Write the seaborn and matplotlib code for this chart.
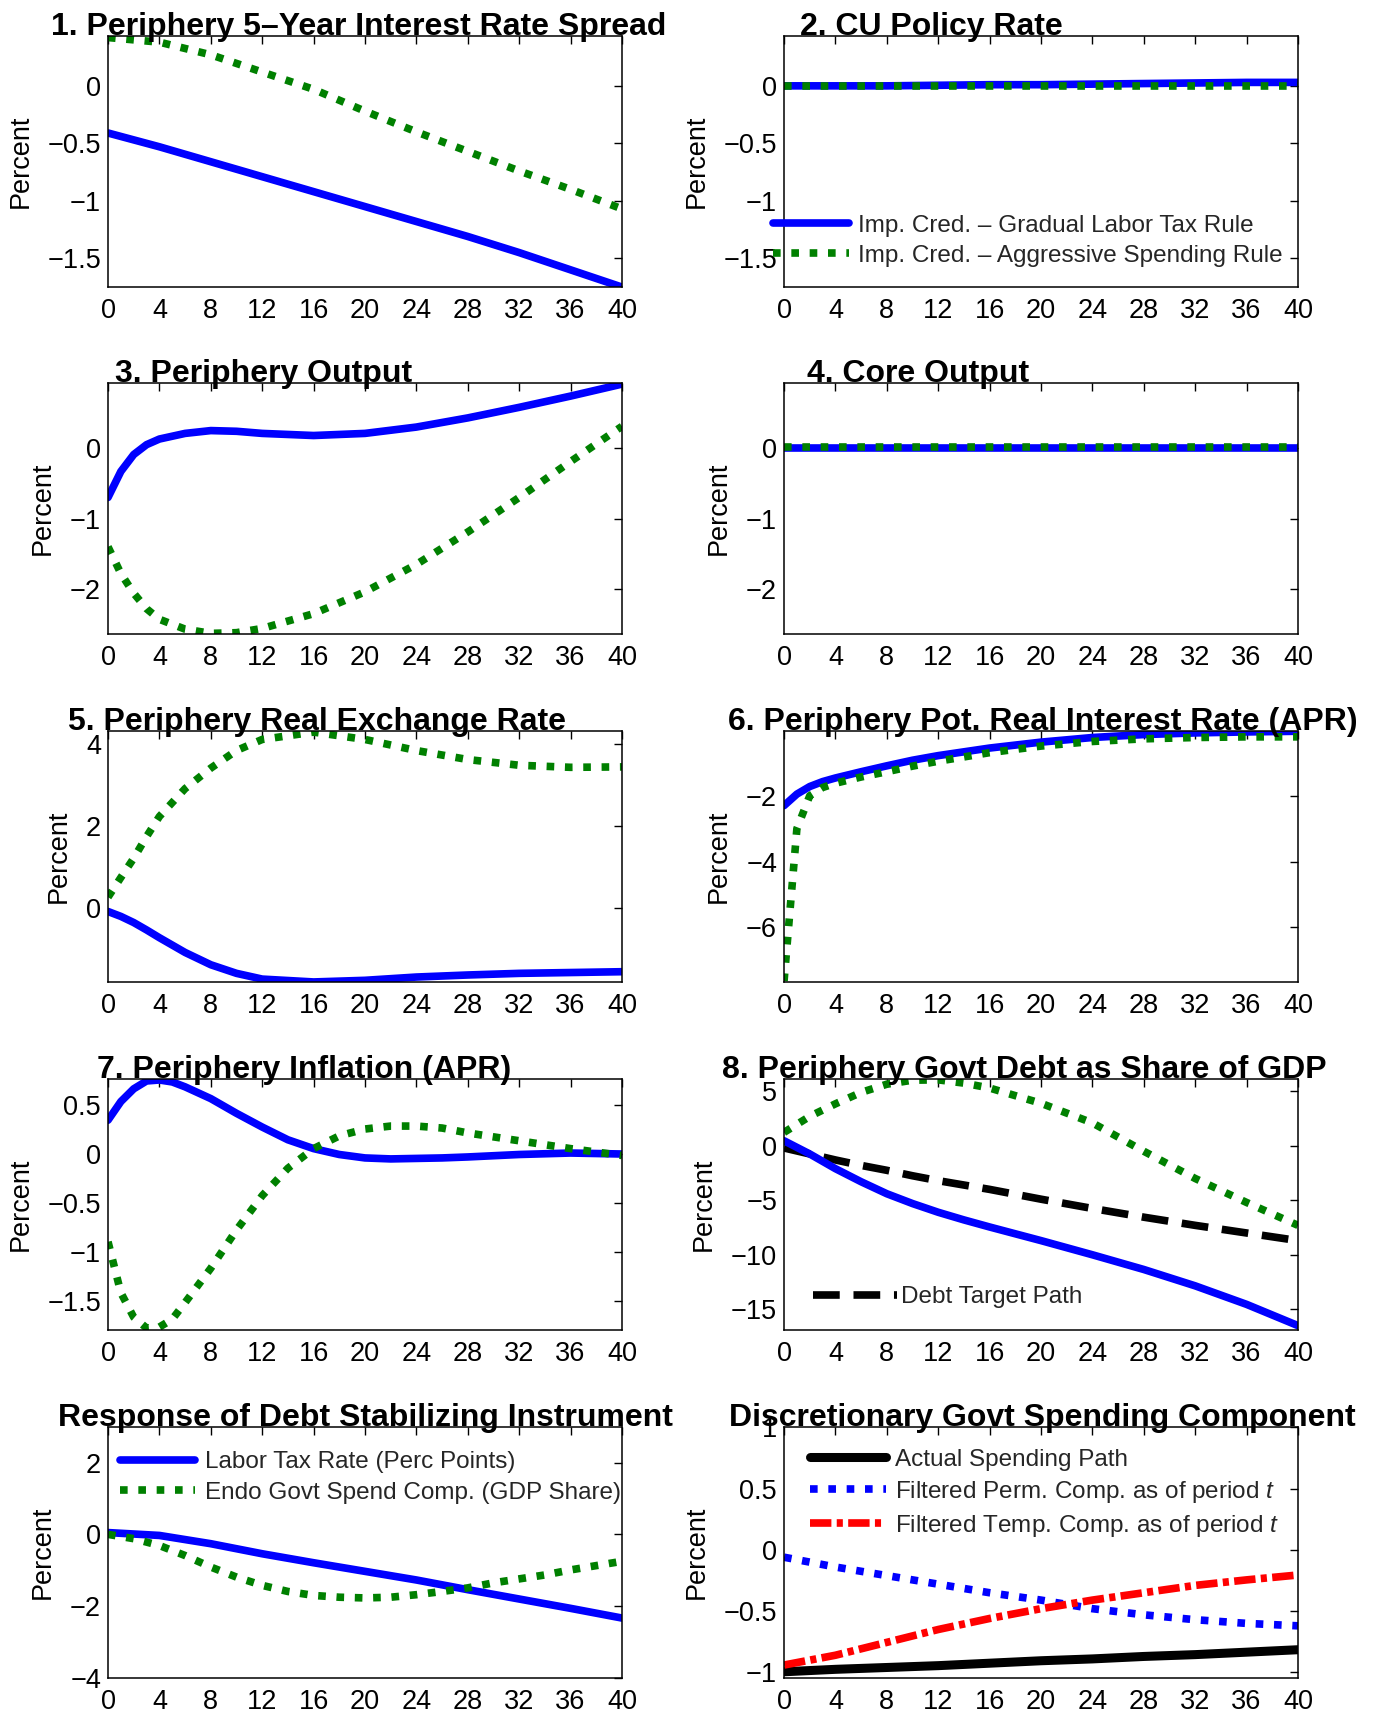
import numpy as np
import pandas as pd
import seaborn as sns
import matplotlib.pyplot as plt

# quarter grids
Q4 = [0, 4, 8, 12, 16, 20, 24, 28, 32, 36, 40]
QA = [0, 1, 2, 3, 4, 6, 8, 10, 12, 16, 20, 24, 28, 32, 36, 40]
QB = [0, 1, 2, 3, 4, 5, 6, 8, 10, 12, 14, 16, 18, 20, 22, 24, 26, 28, 32, 36, 40]
QC = [0, 2, 4, 6, 8, 10, 12, 14, 16, 20, 24, 28, 32, 36, 40]
QD = [0, 2, 4, 6, 8, 10, 12, 14, 16, 18, 20, 22, 24, 26, 28, 30, 32, 34, 36, 38, 40]

# 1. spread
spread_tax = [-0.41, -0.53, -0.66, -0.79, -0.92, -1.05, -1.18, -1.31, -1.45, -1.60, -1.75]
spread_spend = [0.42, 0.38, 0.27, 0.12, -0.03, -0.22, -0.40, -0.57, -0.74, -0.90, -1.07]
# 2. policy rate
policy_tax = [0.0, 0.0, 0.0, 0.005, 0.01, 0.01, 0.015, 0.02, 0.025, 0.03, 0.03]
policy_spend = [0.0, 0.0, 0.0, 0.0, 0.0, 0.0, 0.0, 0.0, 0.0, 0.0, 0.0]
# 3. periphery output
pout_tax = [-0.70, -0.33, -0.09, 0.05, 0.13, 0.21, 0.25, 0.24, 0.21, 0.18, 0.21, 0.30, 0.43, 0.58, 0.74, 0.91]
pout_spend = [-1.40, -1.78, -2.06, -2.28, -2.43, -2.57, -2.63, -2.62, -2.56, -2.35, -2.04, -1.65, -1.19, -0.70, -0.19, 0.31]
# 4. core output
cout_tax = [0.0, 0.0, 0.0, 0.0, 0.0, 0.0, 0.0, 0.0, 0.0, 0.0, 0.0]
cout_spend = [0.02, 0.02, 0.02, 0.02, 0.02, 0.02, 0.02, 0.02, 0.02, 0.02, 0.02]
# 5. real exchange rate
rer_tax = [-0.08, -0.20, -0.35, -0.53, -0.72, -1.08, -1.38, -1.59, -1.73, -1.80, -1.76, -1.68, -1.63, -1.59, -1.57, -1.55]
rer_spend = [0.27, 0.75, 1.22, 1.75, 2.24, 2.92, 3.42, 3.85, 4.12, 4.30, 4.12, 3.85, 3.63, 3.49, 3.44, 3.45]
# 6. potential real rate
prr_tax = [-2.30, -1.95, -1.72, -1.57, -1.46, -1.27, -1.09, -0.92, -0.78, -0.55, -0.37, -0.23, -0.14, -0.09, -0.06, -0.04]
prr_spend = [-7.63, -3.00, -2.00, -1.75, -1.62, -1.43, -1.27, -1.10, -0.95, -0.69, -0.49, -0.35, -0.27, -0.23, -0.21, -0.21]
# 7. inflation
inf_tax = [0.34, 0.53, 0.66, 0.74, 0.75, 0.73, 0.68, 0.56, 0.41, 0.27, 0.14, 0.05, -0.01, -0.045, -0.055, -0.05, -0.045, -0.035, -0.01, 0.005, -0.005]
inf_spend = [-0.90, -1.42, -1.67, -1.78, -1.77, -1.69, -1.52, -1.17, -0.78, -0.43, -0.15, 0.05, 0.18, 0.25, 0.28, 0.28, 0.26, 0.21, 0.13, 0.05, -0.02]
# 8. debt
debt_tax = [0.46, -0.75, -2.1, -3.3, -4.4, -5.3, -6.1, -6.8, -7.45, -8.7, -10.0, -11.35, -12.85, -14.55, -16.5]
debt_spend = [1.23, 2.7, 3.85, 4.9, 5.65, 6.02, 6.05, 5.75, 5.3, 3.9, 2.1, -0.5, -3.0, -5.2, -7.3]
debt_target = [-0.2, -0.75, -1.3, -1.8, -2.25, -2.75, -3.2, -3.6, -4.0, -4.9, -5.75, -6.55, -7.3, -8.0, -8.7]
# 9. instrument
labor_tax = [0.05, -0.03, -0.26, -0.54, -0.79, -1.03, -1.27, -1.54, -1.80, -2.06, -2.33]
endo_spend = [0.0, -0.12, -0.31, -0.59, -0.91, -1.19, -1.42, -1.59, -1.70, -1.75, -1.77, -1.75, -1.68, -1.59, -1.49, -1.35, -1.24, -1.13, -0.99, -0.87, -0.75]
# 10. discretionary spending
actual_spend = [-0.995, -0.975, -0.96, -0.945, -0.925, -0.905, -0.89, -0.87, -0.855, -0.835, -0.815]
perm_comp = [-0.06, -0.14, -0.21, -0.28, -0.35, -0.41, -0.48, -0.53, -0.57, -0.60, -0.62]
temp_comp = [-0.94, -0.86, -0.755, -0.65, -0.56, -0.48, -0.41, -0.35, -0.29, -0.245, -0.205]

BLUE = (0, 0, 1)
GREEN = (0, 0.5, 0)
RED = (1, 0, 0)
SOLID = '-'
DOT = (0, (1.0, 1.4))
DASH = (0, (3.5, 1.8))
DASHDOT = (0, (2.8, 0.7, 0.8, 0.7))

sns.set_theme(style='white')
plt.rcParams['font.family'] = ['Liberation Sans', 'DejaVu Sans']
plt.rcParams['mathtext.fontset'] = 'custom'
plt.rcParams['mathtext.it'] = 'Liberation Sans:italic'
plt.rcParams['mathtext.rm'] = 'Liberation Sans'

fig = plt.figure(figsize=(13.76, 17.17), dpi=100)

lefts = [0.0785, 0.5698]
bottoms = [0.8328, 0.6307, 0.4281, 0.2254, 0.0227]
W, H = 0.3735, 0.146


def draw(ax, x, y, color, style, lw=5.5):
    sns.lineplot(x=x, y=y, ax=ax, color=color, linestyle=style, linewidth=lw,
                 errorbar=None)


def setup(ax, ylim, yticks, ylabels, title, tx):
    ax.set_xlim(0, 40)
    ax.set_ylim(*ylim)
    ax.set_xticks(Q4)
    ax.set_yticks(yticks)
    ax.set_yticklabels(ylabels)
    ax.tick_params(direction='in', top=True, right=True, length=6, width=1,
                   labelsize=19.5, color='black', labelcolor='black')
    ax.tick_params(axis='x', pad=8)
    ax.tick_params(axis='y', pad=5)
    for s in ax.spines.values():
        s.set_color('black')
        s.set_linewidth(1.1)
    ax.set_xlabel('')
    ax.set_ylabel('Percent', fontsize=19.5, labelpad=10, color='black')
    ax.set_title(title, x=tx, fontsize=23, fontweight='bold', pad=1, color='black')


def legend(ax, labels, x, y, hl=3.1, tp=0.4):
    lines = ax.get_lines()[:len(labels)]
    ax.legend(lines, labels, loc='center left', bbox_to_anchor=(x, y),
              frameon=False, fontsize=17.5, borderpad=0, borderaxespad=0,
              handlelength=hl, handletextpad=tp, labelspacing=0.33)


axes = [[fig.add_axes([l, b, W, H]) for l in lefts] for b in bottoms]
m = '\u2212'

ax = axes[0][0]
draw(ax, Q4, spread_tax, BLUE, SOLID)
draw(ax, Q4, spread_spend, GREEN, DOT)
setup(ax, (-1.75, 0.43), [-1.5, -1, -0.5, 0], [m + '1.5', m + '1', m + '0.5', '0'],
      '1. Periphery 5\u2013Year Interest Rate Spread', 0.488)

ax = axes[0][1]
draw(ax, Q4, policy_tax, BLUE, SOLID)
draw(ax, Q4, policy_spend, GREEN, DOT)
setup(ax, (-1.75, 0.43), [-1.5, -1, -0.5, 0], [m + '1.5', m + '1', m + '0.5', '0'],
      '2. CU Policy Rate', 0.287)
legend(ax, ['Imp. Cred. \u2013 Gradual Labor Tax Rule',
            'Imp. Cred. \u2013 Aggressive Spending Rule'], -0.021, 0.184)

ax = axes[1][0]
draw(ax, QA, pout_tax, BLUE, SOLID)
draw(ax, QA, pout_spend, GREEN, DOT)
setup(ax, (-2.64, 0.92), [-2, -1, 0], [m + '2', m + '1', '0'],
      '3. Periphery Output', 0.303)

ax = axes[1][1]
draw(ax, Q4, cout_tax, BLUE, SOLID)
draw(ax, Q4, cout_spend, GREEN, DOT)
setup(ax, (-2.64, 0.92), [-2, -1, 0], [m + '2', m + '1', '0'],
      '4. Core Output', 0.26)

ax = axes[2][0]
draw(ax, QA, rer_tax, BLUE, SOLID)
draw(ax, QA, rer_spend, GREEN, DOT)
setup(ax, (-1.80, 4.32), [0, 2, 4], ['0', '2', '4'],
      '5. Periphery Real Exchange Rate', 0.407)

ax = axes[2][1]
draw(ax, QA, prr_tax, BLUE, SOLID)
draw(ax, QA, prr_spend, GREEN, DOT)
setup(ax, (-7.66, -0.04), [-6, -4, -2], [m + '6', m + '4', m + '2'],
      '6. Periphery Pot. Real Interest Rate (APR)', 0.504)

ax = axes[3][0]
draw(ax, QB, inf_tax, BLUE, SOLID)
draw(ax, QB, inf_spend, GREEN, DOT)
setup(ax, (-1.80, 0.757), [-1.5, -1, -0.5, 0, 0.5],
      [m + '1.5', m + '1', m + '0.5', '0', '0.5'],
      '7. Periphery Inflation (APR)', 0.382)

ax = axes[3][1]
draw(ax, QC, debt_target, 'black', DASH)
draw(ax, QC, debt_tax, BLUE, SOLID)
draw(ax, QC, debt_spend, GREEN, DOT)
setup(ax, (-16.9, 6.1), [-15, -10, -5, 0, 5], [m + '15', m + '10', m + '5', '0', '5'],
      '8. Periphery Govt Debt as Share of GDP', 0.468)
legend(ax, ['Debt Target Path'], 0.057, 0.13, hl=3.45, tp=0.15)

ax = axes[4][0]
draw(ax, Q4, labor_tax, BLUE, SOLID)
draw(ax, QD, endo_spend, GREEN, DOT)
setup(ax, (-4, 2.98), [-4, -2, 0, 2], [m + '4', m + '2', '0', '2'],
      'Response of Debt Stabilizing Instrument', 0.501)
legend(ax, ['Labor Tax Rate (Perc Points)', 'Endo Govt Spend Comp. (GDP Share)'], 0.023, 0.80)

ax = axes[4][1]
draw(ax, Q4, actual_spend, 'black', SOLID, lw=6.5)
draw(ax, Q4, perm_comp, BLUE, DOT)
draw(ax, Q4, temp_comp, RED, DASHDOT)
setup(ax, (-1.046, 1.0), [-1, -0.5, 0, 0.5, 1], [m + '1', m + '0.5', '0', '0.5', '1'],
      'Discretionary Govt Spending Component', 0.502)
legend(ax, ['Actual Spending Path', 'Filtered Perm. Comp. as of period $t$',
            'Filtered Temp. Comp. as of period $t$'], 0.051, 0.735)

fig.savefig('out.png', dpi=100, facecolor='white')
